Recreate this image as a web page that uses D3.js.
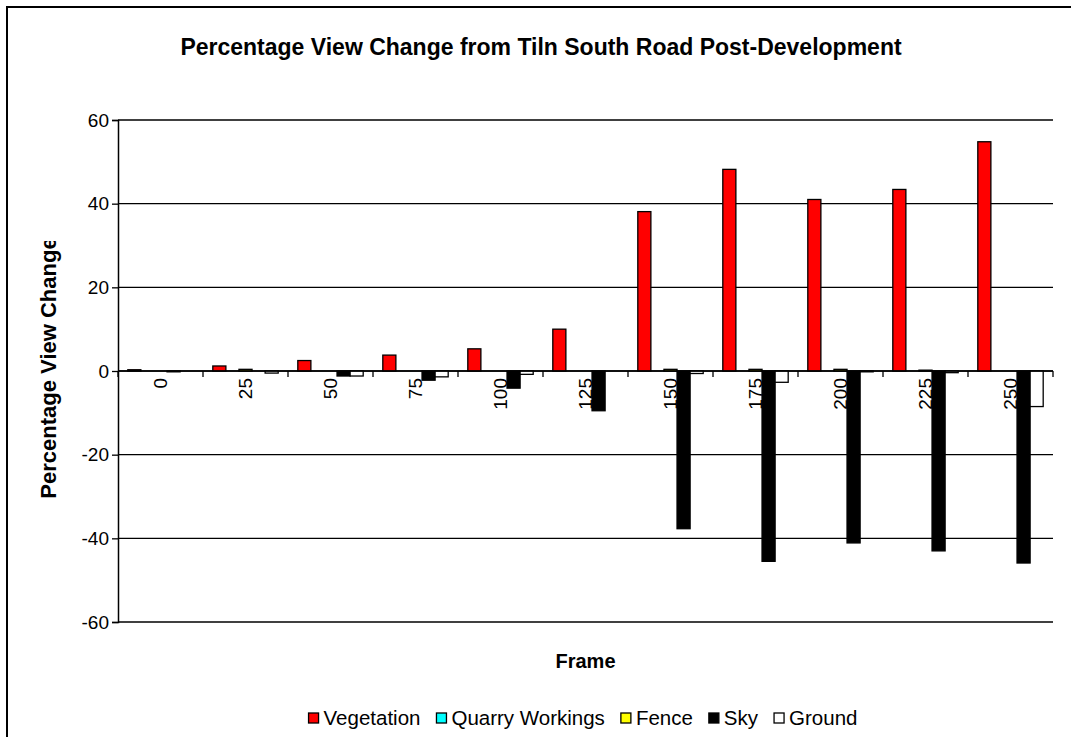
<!DOCTYPE html>
<html>
<head>
<meta charset="utf-8">
<script src="https://cdn.jsdelivr.net/npm/d3@7"></script>
<style>
  html, body { margin: 0; padding: 0; background: #fff; }
  svg { display: block; font-family: "Liberation Sans", Arial, sans-serif; }
</style>
</head>
<body>
<svg id="chart" width="1071" height="737"></svg>
<script>
// Frame numbers along the route and the view-share change of each element (%)
const frames = ["0", "25", "50", "75", "100", "125", "150", "175", "200", "225", "250"];
const vegetation = [0.3, 1.2, 2.5, 3.8, 5.3, 10.0, 38.1, 48.2, 41.0, 43.4, 54.8];
const quarryWorkings = [0, 0, 0, 0, 0, 0, 0, 0, 0, 0, 0];
const fence = [0, 0.4, 0, 0, 0, 0, 0.4, 0.4, 0.4, 0.2, 0];
const sky = [-0.2, 0, -1.2, -2.2, -4.1, -9.5, -37.7, -45.5, -41.1, -43.0, -45.9];
const ground = [0, -0.5, -1.2, -1.4, -0.8, 0, -0.6, -2.7, -0.2, -0.4, -8.5];

const seriesNames = ["Vegetation", "Quarry Workings", "Fence", "Sky", "Ground"];
const seriesColors = ["#ff0000", "#00ffff", "#ffff00", "#000000", "#ffffff"];
const yTicks = [-60, -40, -20, 0, 20, 40, 60];

const series = [vegetation, quarryWorkings, fence, sky, ground].map((vals, i) => ({
  name: seriesNames[i],
  color: seriesColors[i],
  values: vals
}));

const svg = d3.select("#chart");
const W = 1071, H = 737;
const plot = { left: 118, right: 1053, top: 120, bottom: 622 };

// outer chart frame (runs off the right and bottom edges)
svg.append("rect")
  .attr("x", 7).attr("y", 7)
  .attr("width", W).attr("height", H)
  .attr("fill", "#fff").attr("stroke", "#000").attr("stroke-width", 2);

const x0 = d3.scaleBand().domain(frames).range([plot.left, plot.right]).paddingInner(0).paddingOuter(0);
// gap between clusters is 1.5 bar widths
const barW = x0.bandwidth() / (seriesNames.length + 1.5);
const x1 = d3.scaleBand().domain(seriesNames)
  .range([barW * 0.75, barW * 0.75 + barW * seriesNames.length]);
const y = d3.scaleLinear().domain([-60, 60]).range([plot.bottom, plot.top]);

// horizontal gridlines
svg.append("g").selectAll("line").data(yTicks).join("line")
  .attr("x1", plot.left).attr("x2", plot.right)
  .attr("y1", d => y(d)).attr("y2", d => y(d))
  .attr("stroke", "#000").attr("stroke-width", 1.3);

// bars
const groups = svg.append("g").selectAll("g").data(frames).join("g")
  .attr("transform", d => `translate(${x0(d)},0)`);
groups.selectAll("rect")
  .data((f, i) => series.map(s => ({ name: s.name, color: s.color, v: s.values[i] })))
  .join("rect")
  .attr("x", d => x1(d.name))
  .attr("width", x1.bandwidth())
  .attr("y", d => Math.min(y(d.v), y(0)))
  .attr("height", d => Math.abs(y(d.v) - y(0)))
  .attr("fill", d => d.color)
  .attr("stroke", "#000")
  .attr("stroke-width", 1.3);

// y axis
const yAxis = svg.append("g")
  .attr("transform", `translate(${plot.left},0)`)
  .call(d3.axisLeft(y).tickValues(yTicks).tickSize(6).tickPadding(3).tickFormat(d => String(d)));
yAxis.select(".domain").attr("stroke", "#000").attr("stroke-width", 1.5);
yAxis.selectAll(".tick line").attr("stroke", "#000").attr("stroke-width", 1.3);
yAxis.selectAll(".tick text")
  .attr("font-size", 19).attr("font-family", "Liberation Sans, Arial, sans-serif").attr("fill", "#000");

// category axis along zero, ticks at cluster boundaries
const zeroY = y(0);
svg.append("line")
  .attr("x1", plot.left).attr("x2", plot.right)
  .attr("y1", zeroY).attr("y2", zeroY)
  .attr("stroke", "#000").attr("stroke-width", 1.5);
const boundaries = frames.map(f => x0(f)).concat([plot.right]);
svg.append("g").selectAll("line").data(boundaries).join("line")
  .attr("x1", d => d).attr("x2", d => d)
  .attr("y1", zeroY).attr("y2", zeroY + 6)
  .attr("stroke", "#000").attr("stroke-width", 1.3);
svg.append("g").selectAll("text").data(frames).join("text")
  .attr("transform", d => `translate(${x0(d) + x0.bandwidth() / 2},${zeroY + 7}) rotate(-90)`)
  .attr("text-anchor", "end")
  .attr("dy", "0.35em")
  .attr("font-size", 19)
  .text(d => d);

// titles
svg.append("text")
  .attr("x", 541).attr("y", 55)
  .attr("text-anchor", "middle")
  .attr("font-size", 23).attr("font-weight", "bold")
  .text("Percentage View Change from Tiln South Road Post-Development");

svg.append("text")
  .attr("x", (plot.left + plot.right) / 2).attr("y", 668)
  .attr("text-anchor", "middle")
  .attr("font-size", 20).attr("font-weight", "bold")
  .text("Frame");

// value-axis title, trimmed at the top like the chart area allows
svg.append("clipPath").attr("id", "yTitleClip")
  .append("rect").attr("x", 0).attr("y", 241).attr("width", 110).attr("height", 400);
svg.append("g")
  .attr("clip-path", "url(#yTitleClip)")
  .append("text")
  .attr("transform", "translate(56,368) rotate(-90)")
  .attr("text-anchor", "middle")
  .attr("font-size", 22).attr("font-weight", "bold")
  .text("Percentage View Change");

// legend
const legend = svg.append("g");
let lx = 0;
series.forEach(s => {
  const g = legend.append("g").attr("transform", `translate(${lx},0)`);
  g.append("rect").attr("x", 0).attr("y", -12).attr("width", 10).attr("height", 10)
    .attr("fill", s.color).attr("stroke", "#000").attr("stroke-width", 1.3);
  const t = g.append("text").attr("x", 15).attr("y", 0)
    .attr("font-size", 20.5).text(s.name);
  lx += 15 + t.node().getComputedTextLength() + 16;
});
const legendW = lx - 16;
legend.attr("transform", `translate(${583 - legendW / 2},725)`);
</script>
</body>
</html>
